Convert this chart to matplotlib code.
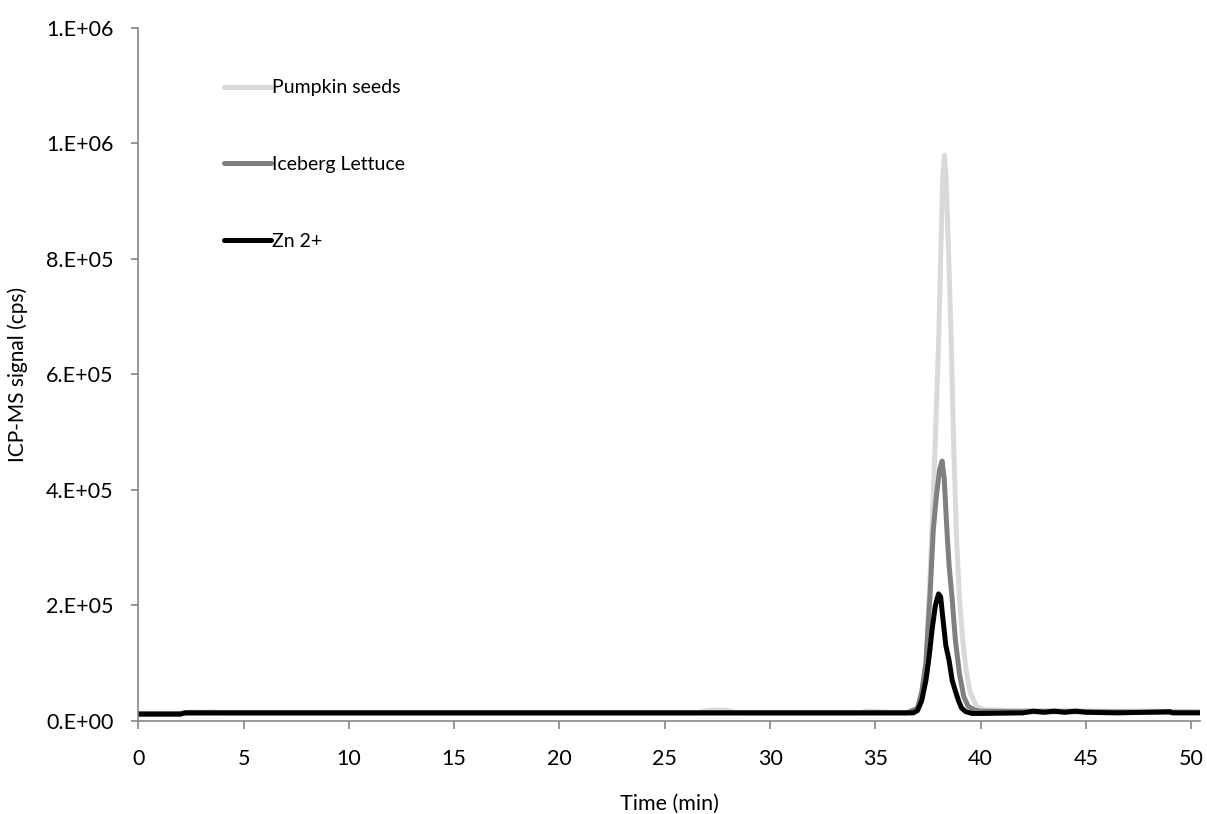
import matplotlib
matplotlib.use('Agg')
import matplotlib.pyplot as plt
from matplotlib.ticker import FuncFormatter, MultipleLocator

plt.rcParams['font.family'] = ['Lato', 'DejaVu Sans']

# Pumpkin seeds (light grey)
t_pumpkin = [0, 2.0, 2.5, 3.0, 3.5, 4.0, 26.5, 27.0, 27.5, 28.0, 28.5, 34.3, 34.5, 36.5, 37.0, 37.2, 37.4,
             37.55, 37.7, 37.85, 38.0, 38.12, 38.2, 38.28, 38.36, 38.48, 38.6, 38.72, 38.85, 39.0, 39.15,
             39.3, 39.5, 39.8, 40.2, 42.0, 44.0, 46.0, 48.0, 50.4]
v_pumpkin = [1.2e4, 1.2e4, 1.6e4, 1.5e4, 1.6e4, 1.4e4, 1.4e4, 1.8e4, 1.9e4, 1.8e4, 1.4e4, 1.4e4, 1.7e4,
             1.4e4, 2.0e4, 4.0e4, 1.0e5, 2.1e5, 3.4e5, 4.9e5, 6.5e5, 8.3e5, 9.4e5, 9.8e5, 9.4e5, 8.1e5,
             6.6e5, 4.8e5, 3.2e5, 2.1e5, 1.4e5, 9.0e4, 5.0e4, 2.5e4, 1.9e4, 1.8e4, 1.8e4, 1.7e4, 1.7e4, 1.6e4]

# Iceberg Lettuce (mid grey)
t_lettuce = [0, 2.0, 2.2, 36.5, 37.0, 37.2, 37.4, 37.6, 37.75, 37.9, 38.05, 38.17, 38.27, 38.4, 38.5,
             38.65, 38.8, 39.0, 39.2, 39.4, 39.7, 40.0, 42.0, 45.0, 48.0, 50.4]
v_lettuce = [1.2e4, 1.2e4, 1.4e4, 1.4e4, 2.2e4, 5.0e4, 1.0e5, 2.2e5, 3.3e5, 3.9e5, 4.35e5, 4.5e5, 4.2e5,
             3.3e5, 2.7e5, 2.1e5, 1.4e5, 8.0e4, 4.2e4, 2.6e4, 1.9e4, 1.7e4, 1.6e4, 1.6e4, 1.5e4, 1.5e4]

# Zn 2+ (black)
t_zn = [0, 2.0, 2.2, 36.0, 36.8, 37.0, 37.2, 37.4, 37.55, 37.7, 37.85, 38.0, 38.1, 38.2, 38.35, 38.5,
        38.65, 38.8, 38.95, 39.1, 39.3, 39.6, 40.0, 42.0, 42.5, 43.0, 43.5, 44.0, 44.5, 45.0, 46.5,
        49.0, 49.1, 50.4]
v_zn = [1.2e4, 1.2e4, 1.4e4, 1.4e4, 1.4e4, 1.8e4, 3.5e4, 7.0e4, 1.1e5, 1.6e5, 2.0e5, 2.2e5, 2.15e5,
        1.8e5, 1.3e5, 1.05e5, 7.0e4, 5.2e4, 3.5e4, 2.2e4, 1.6e4, 1.3e4, 1.3e4, 1.4e4, 1.7e4, 1.5e4,
        1.7e4, 1.5e4, 1.7e4, 1.5e4, 1.4e4, 1.6e4, 1.4e4, 1.4e4]


def sci_fmt(v, pos):
    s = f"{v:.0E}"
    return s.replace('E', '.E')


fig = plt.figure(figsize=(12.07, 8.14), dpi=100)
ax = fig.add_axes([0.1146, 0.1143, 0.8800, 0.8513])

ax.plot(t_pumpkin, v_pumpkin, color='#d9d9d9', lw=3.6, label='Pumpkin seeds', solid_capstyle='round')
ax.plot(t_lettuce, v_lettuce, color='#808080', lw=3.6, label='Iceberg Lettuce', solid_capstyle='round')
ax.plot(t_zn, v_zn, color='#000000', lw=3.6, label='Zn 2+', solid_capstyle='round')

ax.set_xlim(0, 50.44)
ax.set_ylim(0, 1.2e6)
ax.xaxis.set_major_locator(MultipleLocator(5))
ax.yaxis.set_major_locator(MultipleLocator(2e5))
ax.yaxis.set_major_formatter(FuncFormatter(sci_fmt))

for s in ['top', 'right']:
    ax.spines[s].set_visible(False)
for s in ['left', 'bottom']:
    ax.spines[s].set_color('#868686')
    ax.spines[s].set_linewidth(1.2)
ax.tick_params(axis='both', colors='#868686', labelcolor='black', labelsize=15.5, width=1.2)
ax.tick_params(axis='x', direction='out', length=6, pad=14)
ax.tick_params(axis='y', direction='out', length=5, pad=13)

ax.set_xlabel('Time (min)', fontsize=15.5, labelpad=18)
ax.set_ylabel('ICP-MS signal (cps)', fontsize=15, labelpad=13)

ax.legend(loc='upper left', bbox_to_anchor=(0.073, 0.937), frameon=False, fontsize=14,
          handlelength=2.42, handletextpad=0.05, labelspacing=3.07, borderaxespad=0)

fig.savefig('out.png', dpi=100)
